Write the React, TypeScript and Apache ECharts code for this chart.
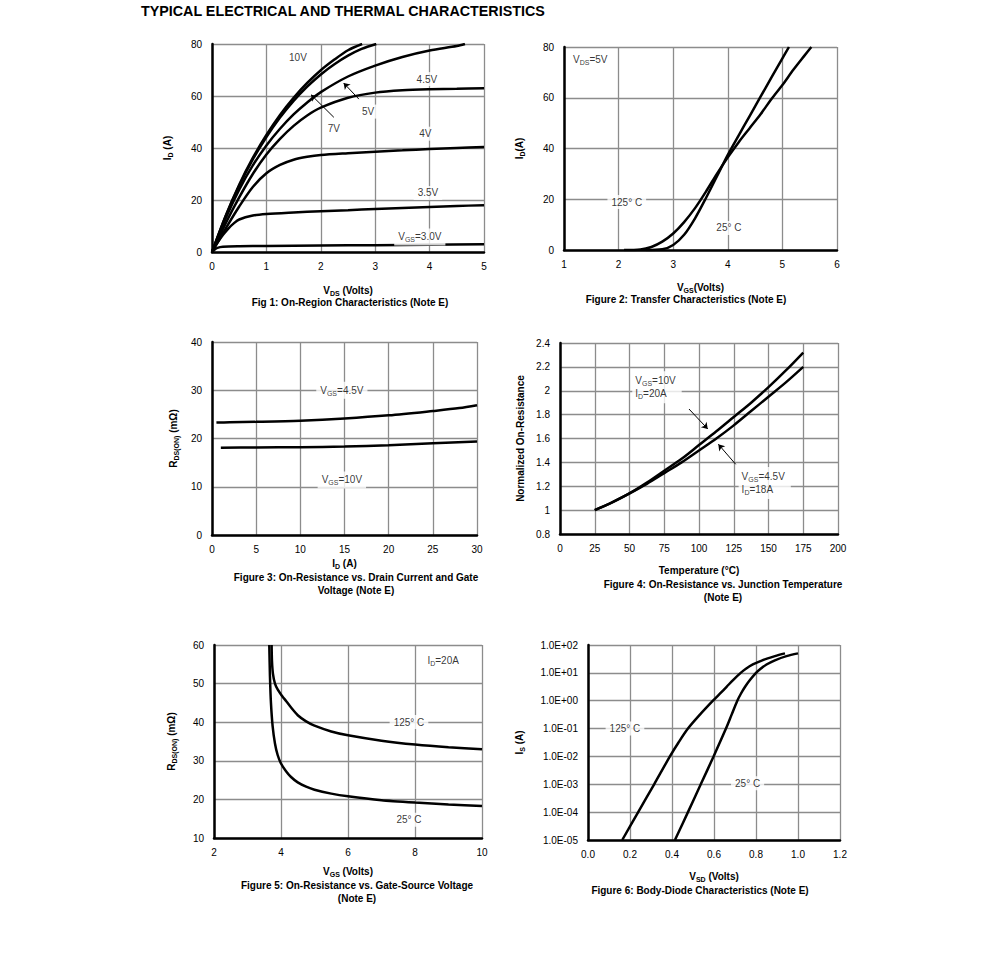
import React, { useEffect, useRef } from 'react';
import * as echarts from 'echarts';

const FONT = '"Liberation Sans", Arial, Helvetica, sans-serif';

// ---------- Figure 1: On-Region Characteristics (VDS, ID) ----------
const fig1Vgs10 = [[0, 0], [0.25, 13.9], [0.5, 25.9], [0.75, 36.2], [1, 45], [1.25, 52.7], [1.5, 59.3], [1.75, 65], [2, 69.9], [2.25, 74], [2.5, 77.6], [2.76, 80]];
const fig1Vgs7 = [[0, 0], [0.25, 13.7], [0.5, 25.5], [0.75, 35.6], [1, 44.2], [1.25, 51.7], [1.5, 58.1], [1.75, 63.6], [2, 68.3], [2.25, 72.2], [2.5, 75.5], [2.75, 78.1], [3.02, 80]];
const fig1Vgs5 = [[0, 0], [0.25, 12.9], [0.5, 24], [0.75, 33.3], [1, 41], [1.25, 47.4], [1.5, 52.9], [1.75, 57.5], [2, 61.5], [2.5, 67.5], [3, 71.7], [3.5, 75], [4, 77.5], [4.5, 79.2], [4.65, 80]];
const fig1Vgs45 = [[0, 0], [0.25, 11], [0.5, 21], [0.75, 30], [1, 37.5], [1.25, 43.5], [1.5, 48.5], [1.75, 52.5], [2, 55.5], [2.5, 59.3], [3, 61.3], [3.5, 62.2], [4, 62.6], [4.5, 62.8], [5, 63]];
const fig1Vgs4 = [[0, 0], [0.25, 9], [0.5, 17.5], [0.75, 25], [1, 30.3], [1.25, 33.5], [1.5, 35.5], [1.75, 36.6], [2, 37.3], [2.5, 38], [3, 38.6], [3.5, 39.1], [4, 39.6], [4.5, 40], [5, 40.4]];
const fig1Vgs35 = [[0, 0], [0.1, 3.5], [0.2, 6.5], [0.3, 9], [0.4, 11], [0.5, 12.5], [0.75, 14], [1, 14.6], [1.5, 15.2], [2, 15.7], [2.5, 16.1], [3, 16.5], [3.5, 16.9], [4, 17.3], [4.5, 17.7], [5, 18]];
const fig1Vgs3 = [[0, 0], [0.05, 1], [0.1, 1.6], [0.2, 2], [0.5, 2.2], [1, 2.3], [2, 2.5], [3, 2.6], [4, 2.8], [5, 3]];
const fig1Labels = [
  { text: '10V', at: [1.58, 75] },
  { text: '4.5V', at: [3.95, 66.5] },
  { text: '5V', at: [2.87, 54] },
  { text: '7V', at: [2.24, 47.5] },
  { text: '4V', at: [3.92, 45.5] },
  { text: '3.5V', at: [3.97, 22.7] },
  { text: '{n|V}{s|GS}{n|=3.0V}', at: [3.82, 5.8] },
];
const fig1Arrows = [
  [[2.24, 51.8], [1.82, 60.5]],
  [[2.7, 58.8], [2.42, 65]],
];

// ---------- Figure 2: Transfer Characteristics (VGS, ID) ----------
const fig2T25 = [[2.5, 0], [2.8, 0.3], [3, 2], [3.2, 6], [3.4, 12.5], [3.6, 20.5], [3.8, 29], [4, 37.5], [4.2, 45.2], [4.4, 52.8], [4.6, 60.4], [4.8, 68], [5, 75.5], [5.12, 80]];
const fig2T125 = [[2.1, 0], [2.4, 0.2], [2.6, 1.2], [2.8, 3.3], [3, 6.5], [3.2, 11], [3.4, 16.5], [3.6, 23], [3.8, 30], [4, 36.5], [4.2, 42.5], [4.4, 48], [4.6, 53.5], [4.8, 59.5], [5, 65], [5.2, 71], [5.4, 76.5], [5.53, 80]];
const fig2Labels = [
  { text: '{n|V}{s|DS}{n|=5V}', at: [1.48, 74.9] },
  { text: '125° C', at: [2.15, 18.9] },
  { text: '25° C', at: [4.02, 8.7] },
];

// ---------- Figure 3: On-Resistance vs Drain Current (ID, RDS(ON)) ----------
const fig3Vgs45 = [[0.5, 23.3], [2, 23.35], [5, 23.45], [10, 23.7], [15, 24.15], [20, 24.8], [25, 25.7], [28, 26.3], [30, 26.9]];
const fig3Vgs10 = [[1, 18.1], [5, 18.15], [10, 18.2], [15, 18.35], [20, 18.6], [25, 19], [30, 19.4]];
const fig3Labels = [
  { text: '{n|V}{s|GS}{n|=4.5V}', at: [14.7, 30] },
  { text: '{n|V}{s|GS}{n|=10V}', at: [14.7, 11.4] },
];

// ---------- Figure 4: On-Resistance vs Junction Temperature ----------
const fig4Vgs10 = [[25, 1], [37.5, 1.065], [50, 1.14], [62.5, 1.23], [75, 1.33], [87.5, 1.43], [100, 1.545], [112.5, 1.66], [125, 1.78], [137.5, 1.9], [150, 2.03], [162.5, 2.17], [175, 2.32]];
const fig4Vgs45 = [[25, 1], [37.5, 1.065], [50, 1.14], [62.5, 1.22], [75, 1.31], [87.5, 1.4], [100, 1.5], [112.5, 1.6], [125, 1.71], [137.5, 1.83], [150, 1.95], [162.5, 2.07], [175, 2.2]];
const fig4Labels = [
  { text: '{n|V}{s|GS}{n|=10V}\n{n|I}{s|D}{n|=20A}', at: [52, 2.03], left: true },
  { text: '{n|V}{s|GS}{n|=4.5V}\n{n|I}{s|D}{n|=18A}', at: [128.5, 1.227], left: true },
];
const fig4Arrows = [
  [[92.8, 1.847], [106.3, 1.68]],
  [[126.4, 1.384], [113.9, 1.552]],
];

// ---------- Figure 5: On-Resistance vs Gate-Source Voltage ----------
const fig5T125 = [[3.72, 60], [3.73, 56], [3.76, 52.5], [3.82, 50], [3.9, 48.5], [4, 47.2], [4.15, 45.5], [4.3, 43.8], [4.5, 41.8], [4.75, 40.2], [5, 39.1], [5.5, 37.6], [6, 36.6], [7, 35.2], [8, 34.2], [9, 33.5], [10, 33]];
const fig5T25 = [[3.65, 60], [3.67, 52], [3.7, 45], [3.75, 39], [3.82, 34.5], [3.9, 31.5], [4, 29.3], [4.15, 27.3], [4.3, 25.8], [4.5, 24.4], [4.75, 23.3], [5, 22.5], [5.5, 21.5], [6, 20.8], [7, 19.8], [8, 19.2], [9, 18.7], [10, 18.3]];
const fig5Labels = [
  { text: '{n|I}{s|D}{n|=20A}', at: [8.84, 56.1], plain: true },
  { text: '125° C', at: [7.82, 40.05] },
  { text: '25° C', at: [7.82, 14.7] },
];

// ---------- Figure 6: Body-Diode Characteristics ----------
const fig6T125 = [[0.163, 1e-5], [0.239, 1e-4], [0.315, 1e-3], [0.39, 1e-2], [0.431, 0.0316], [0.476, 0.1], [0.533, 0.316], [0.595, 1], [0.628, 1.78], [0.66, 3.16], [0.692, 5.62], [0.727, 10], [0.752, 14.1], [0.785, 20], [0.83, 28.2], [0.89, 39.8], [0.938, 50]];
const fig6T25 = [[0.414, 1e-5], [0.476, 1e-4], [0.537, 1e-3], [0.598, 1e-2], [0.657, 0.1], [0.684, 0.316], [0.711, 1], [0.728, 1.78], [0.748, 3.16], [0.772, 5.62], [0.8, 10], [0.822, 14.1], [0.85, 20], [0.89, 28.2], [0.945, 39.8], [1.0, 50]];
const fig6Labels = [
  { text: '125° C', at: [0.176, 0.1] },
  { text: '25° C', at: [0.76, 1.1e-3] },
];

// ---------- captions ----------
const mainTitle = 'TYPICAL ELECTRICAL AND THERMAL CHARACTERISTICS';
const captions = [
  { text: 'Fig 1: On-Region Characteristics (Note E)', x: 350, y: 302 },
  { text: 'Figure 2: Transfer Characteristics (Note E)', x: 686, y: 299 },
  { text: 'Figure 3: On-Resistance vs. Drain Current and Gate\nVoltage (Note E)', x: 356, y: 583.5 },
  { text: 'Figure 4: On-Resistance vs. Junction Temperature\n(Note E)', x: 723, y: 591 },
  { text: 'Figure 5: On-Resistance vs. Gate-Source Voltage\n(Note E)', x: 357, y: 891.5 },
  { text: 'Figure 6: Body-Diode Characteristics (Note E)', x: 700, y: 890 },
];

const grids = [
  { left: 212, top: 44, width: 272, height: 208 },
  { left: 564, top: 47, width: 273, height: 203 },
  { left: 212, top: 342, width: 265, height: 193 },
  { left: 560, top: 343, width: 278, height: 191 },
  { left: 214, top: 645, width: 268, height: 193 },
  { left: 588, top: 645, width: 252, height: 195 },
];

const RICH_NAME = {
  b: { fontSize: 10, fontWeight: 'bold', fontFamily: FONT, color: '#000', lineHeight: 14 },
  s: { fontSize: 7, fontWeight: 'bold', fontFamily: FONT, color: '#000', lineHeight: 14, verticalAlign: 'bottom' },
};
const RICH_LABEL = {
  n: { fontSize: 10, fontFamily: FONT, color: '#000', lineHeight: 13 },
  s: { fontSize: 7, fontFamily: FONT, color: '#000', lineHeight: 13, verticalAlign: 'bottom' },
};

function logFmt(v: number) {
  const e = Math.round(Math.log10(v));
  return '1.0E' + (e < 0 ? '-' : '+') + String(Math.abs(e)).padStart(2, '0');
}

function xAxis(i: number, min: number, max: number, interval: number, name: string, nameGap: number, fmt?: any) {
  return {
    type: 'value', gridIndex: i, min, max, interval,
    name, nameLocation: 'middle', nameGap,
    nameTextStyle: { fontSize: 10, fontWeight: 'bold', fontFamily: FONT, color: '#000', rich: RICH_NAME },
    axisLine: { show: true, onZero: false, lineStyle: { color: '#000', width: 2.5 } },
    axisTick: { show: false },
    axisLabel: { color: '#000', fontSize: 10, fontFamily: FONT, margin: 9, formatter: fmt },
    splitLine: { show: true, lineStyle: { color: '#8c8c8c', width: 1.3 } },
  };
}

function yAxis(i: number, min: number, max: number, interval: number, name: string, nameGap: number, fmt?: any, log?: boolean) {
  const a: any = {
    type: log ? 'log' : 'value', gridIndex: i, min, max,
    name, nameLocation: 'middle', nameGap, nameRotate: 90,
    nameTextStyle: { fontSize: 10, fontWeight: 'bold', fontFamily: FONT, color: '#000', rich: RICH_NAME },
    axisLine: { show: true, onZero: false, lineStyle: { color: '#000', width: 2.5 } },
    axisTick: { show: false },
    axisLabel: { color: '#000', fontSize: 10, fontFamily: FONT, margin: 10, formatter: fmt },
    splitLine: { show: true, lineStyle: { color: '#8c8c8c', width: 1.3 } },
  };
  if (log) { a.logBase = 10; a.interval = 1; a.splitNumber = 7; } else { a.interval = interval; }
  return a;
}

function curve(i: number, data: number[][], smooth = 0.3) {
  return {
    type: 'line', xAxisIndex: i, yAxisIndex: i, data, symbol: 'none', showSymbol: false,
    smooth, silent: true, z: 3,
    lineStyle: { color: '#000', width: 2.5 },
  };
}

function annot(i: number, items: any[], arrows?: number[][][]) {
  const s: any = {
    type: 'scatter', xAxisIndex: i, yAxisIndex: i, symbol: 'circle', symbolSize: 1, silent: true, z: 5,
    itemStyle: { color: 'rgba(0,0,0,0)' },
    data: items.map((it) => ({
      name: it.text, value: it.at,
      label: it.left ? { align: 'left', padding: [3, 6, 3, 3] } : it.plain ? { backgroundColor: 'rgba(0,0,0,0)' } : {},
    })),
    label: {
      show: true, position: 'inside', formatter: (p: any) => p.name,
      fontSize: 10, fontFamily: FONT, color: '#000', backgroundColor: '#fff', padding: [2, 4],
      rich: RICH_LABEL,
    },
    emphasis: { disabled: true },
  };
  if (arrows) {
    s.markLine = {
      silent: true, symbol: ['none', 'arrow'], symbolSize: 6, animation: false,
      lineStyle: { color: '#000', width: 1, type: 'solid' },
      label: { show: false }, emphasis: { disabled: true },
      data: arrows.map((a) => [{ coord: a[0] }, { coord: a[1] }]),
    };
  }
  return s;
}

export default function App() {
  const ref = useRef<HTMLDivElement>(null);
  useEffect(() => {
    if (!ref.current) return;
    const chart = echarts.init(ref.current, null, { renderer: 'svg' });
    const option: any = {
      animation: false,
      backgroundColor: '#fff',
      grid: grids.map((g) => ({ ...g, containLabel: false })),
      xAxis: [
        xAxis(0, 0, 5, 1, '{b|V}{s|DS}{b| (Volts)}', 31),
        xAxis(1, 1, 6, 1, '{b|V}{s|GS}{b|(Volts)}', 30),
        xAxis(2, 0, 30, 5, '{b|I}{s|D}{b| (A)}', 21),
        xAxis(3, 0, 200, 25, 'Temperature (°C)', 31),
        xAxis(4, 2, 10, 2, '{b|V}{s|GS}{b| (Volts)}', 26),
        xAxis(5, 0, 1.2, 0.2, '{b|V}{s|SD}{b| (Volts)}', 29, (v: number) => v.toFixed(1)),
      ],
      yAxis: [
        yAxis(0, 0, 80, 20, '{b|I}{s|D}{b| (A)}', 38),
        yAxis(1, 0, 80, 20, '{b|I}{s|D}{b|(A)}', 38),
        yAxis(2, 0, 40, 10, '{b|R}{s|DS(ON)}{b| (mΩ)}', 32),
        yAxis(3, 0.8, 2.4, 0.2, 'Normalized On-Resistance', 35, (v: number) => String(Math.round(v * 10) / 10)),
        yAxis(4, 10, 60, 10, '{b|R}{s|DS(ON)}{b| (mΩ)}', 36),
        yAxis(5, 1e-5, 100, 1, '{b|I}{s|S}{b| (A)}', 62, logFmt, true),
      ],
      series: [
        curve(0, fig1Vgs10), curve(0, fig1Vgs7), curve(0, fig1Vgs5), curve(0, fig1Vgs45),
        curve(0, fig1Vgs4), curve(0, fig1Vgs35), curve(0, fig1Vgs3),
        annot(0, fig1Labels, fig1Arrows),
        curve(1, fig2T25), curve(1, fig2T125), annot(1, fig2Labels),
        curve(2, fig3Vgs45), curve(2, fig3Vgs10), annot(2, fig3Labels),
        curve(3, fig4Vgs10), curve(3, fig4Vgs45), annot(3, fig4Labels, fig4Arrows),
        curve(4, fig5T125, 0.2), curve(4, fig5T25, 0.2), annot(4, fig5Labels),
        curve(5, fig6T125), curve(5, fig6T25), annot(5, fig6Labels),
      ],
      graphic: [
        {
          type: 'text', x: 141, y: 11,
          style: { text: mainTitle, font: 'bold 14.3px ' + FONT, fill: '#000', align: 'left', verticalAlign: 'middle', textAlign: 'left', textVerticalAlign: 'middle' },
        },
        ...captions.map((c) => ({
          type: 'text', x: c.x, y: c.y,
          style: { text: c.text, font: 'bold 10px ' + FONT, fill: '#000', lineHeight: 13, align: 'center', verticalAlign: 'middle', textAlign: 'center', textVerticalAlign: 'middle' },
        })),
      ],
    };
    chart.setOption(option);
    return () => chart.dispose();
  }, []);
  return <div ref={ref} style={{ position: 'absolute', left: 0, top: 0, width: 991, height: 979 }} />;
}
